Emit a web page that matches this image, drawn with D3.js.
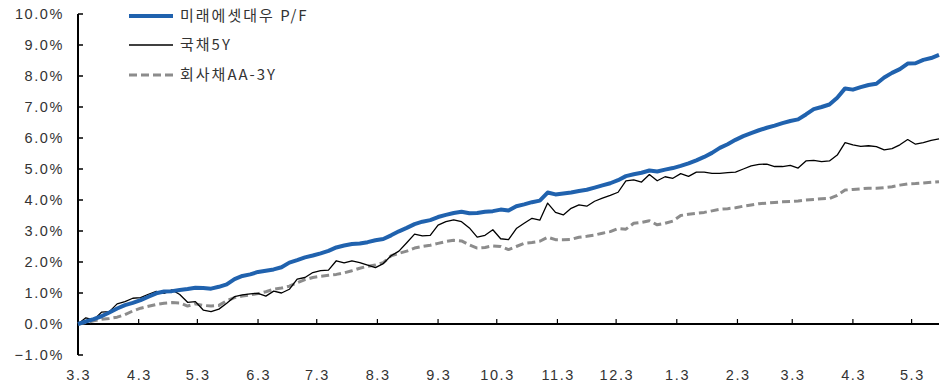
<!DOCTYPE html>
<html>
<head>
<meta charset="utf-8">
<script src="https://cdn.jsdelivr.net/npm/d3@7"></script>
<style>
  html, body { margin: 0; padding: 0; background: #fff; }
  svg { display: block; }
  .tick-label { font-family: "Liberation Sans", Arial, sans-serif; font-size: 14.5px; letter-spacing: 1.6px; fill: #333; }
  .legend-label { font-family: "Noto Sans CJK KR", "Noto Sans", sans-serif; font-size: 15px; letter-spacing: 2px; fill: #333; }
</style>
</head>
<body>
<svg id="chart" width="946" height="385"></svg>
<script>
// Cumulative return (%) sampled every 4 days from the start date
const startDate = "2018-03-03";
const stepDays = 4;

const seriesNames = ["미래에셋대우 P/F", "국채5Y", "회사채AA-3Y"];

const mirae = [
  0, 0.08, 0.16, 0.25, 0.37, 0.5, 0.61, 0.68, 0.77, 0.88,
  0.99, 1.05, 1.06, 1.1, 1.13, 1.17, 1.16, 1.14, 1.2, 1.28,
  1.45, 1.55, 1.6, 1.68, 1.72, 1.76, 1.83, 1.98, 2.06, 2.15,
  2.21, 2.28, 2.36, 2.47, 2.53, 2.58, 2.6, 2.64, 2.7, 2.74,
  2.86, 2.99, 3.1, 3.22, 3.3, 3.35, 3.45, 3.52, 3.58, 3.62,
  3.57, 3.58, 3.62, 3.64, 3.69, 3.66, 3.8, 3.86, 3.93, 3.98,
  4.24, 4.18, 4.21, 4.24, 4.29, 4.33, 4.4, 4.47, 4.54, 4.64,
  4.77, 4.83, 4.88, 4.95, 4.92, 4.98, 5.03, 5.1, 5.18, 5.28,
  5.39, 5.52, 5.68, 5.8, 5.94, 6.06, 6.16, 6.25, 6.33, 6.4,
  6.48, 6.55, 6.6, 6.76, 6.93, 7.0, 7.08, 7.3, 7.6, 7.56,
  7.64, 7.71, 7.75, 7.95, 8.1, 8.22, 8.4, 8.41, 8.52, 8.58,
  8.68
];

const ktb5y = [
  0, 0.2, 0.13, 0.38, 0.4, 0.65, 0.72, 0.83, 0.85, 0.96,
  1.05, 0.99, 1.1, 0.95, 0.7, 0.72, 0.45, 0.4, 0.48, 0.67,
  0.88, 0.94, 0.97, 0.99, 0.9, 1.06, 1.0, 1.12, 1.45, 1.5,
  1.66, 1.72, 1.74, 2.04, 1.97, 2.04, 1.98, 1.9, 1.82, 1.95,
  2.2, 2.35, 2.62, 2.9, 2.84, 2.86, 3.19, 3.3, 3.36, 3.3,
  3.1, 2.8, 2.86, 3.04, 2.75, 2.72, 3.08, 3.25, 3.41, 3.35,
  3.9, 3.6, 3.52, 3.73, 3.84, 3.8, 3.96, 4.06, 4.15, 4.25,
  4.62, 4.65, 4.58, 4.82, 4.62, 4.75, 4.7, 4.85, 4.76, 4.9,
  4.9, 4.86, 4.86, 4.88, 4.9, 5.0, 5.1, 5.15, 5.16, 5.08,
  5.08, 5.12, 5.03, 5.26, 5.28, 5.24, 5.26, 5.45, 5.85, 5.78,
  5.73, 5.75, 5.72, 5.62, 5.66, 5.78, 5.95, 5.8, 5.85, 5.92,
  5.97
];

const corpAA3y = [
  0, 0.05, 0.1, 0.15, 0.18, 0.22, 0.3, 0.42, 0.51, 0.57,
  0.63, 0.67, 0.69, 0.68, 0.58, 0.65, 0.6, 0.58, 0.6, 0.75,
  0.85, 0.9, 0.94, 0.98, 1.04, 1.12, 1.16, 1.22, 1.33, 1.43,
  1.5, 1.54, 1.57, 1.6, 1.65, 1.72, 1.8, 1.86, 1.9, 1.98,
  2.2, 2.28, 2.35, 2.45, 2.5, 2.54, 2.6, 2.66, 2.7, 2.68,
  2.55, 2.45, 2.47, 2.52, 2.5, 2.4, 2.5, 2.6, 2.63, 2.67,
  2.8, 2.72, 2.72, 2.73, 2.8, 2.83, 2.87, 2.93, 2.98, 3.08,
  3.06, 3.25, 3.28, 3.33, 3.2, 3.25, 3.32, 3.5, 3.54, 3.57,
  3.6, 3.65, 3.7, 3.72, 3.75, 3.8, 3.84, 3.88, 3.9, 3.92,
  3.94, 3.95, 3.97, 4.0, 4.02, 4.04, 4.05, 4.15, 4.32, 4.34,
  4.36, 4.38, 4.38, 4.4, 4.43, 4.48, 4.52, 4.53, 4.55, 4.57,
  4.59
];

const yTicks = [-1, 0, 1, 2, 3, 4, 5, 6, 7, 8, 9, 10];
const xTickLabels = ["3.3", "4.3", "5.3", "6.3", "7.3", "8.3", "9.3", "10.3", "11.3", "12.3", "1.3", "2.3", "3.3", "4.3", "5.3"];
const xTickYears = [2018, 2018, 2018, 2018, 2018, 2018, 2018, 2018, 2018, 2018, 2019, 2019, 2019, 2019, 2019];

const parse = d3.timeParse("%Y-%m-%d");
const t0 = parse(startDate);
const dates = mirae.map((_, i) => d3.timeDay.offset(t0, i * stepDays));
const tickDates = xTickLabels.map((lab, i) => {
  const [m, d] = lab.split(".").map(Number);
  return new Date(xTickYears[i], m - 1, d);
});

const svg = d3.select("#chart");

const x = d3.scaleTime()
  .domain([t0, dates[dates.length - 1]])
  .range([78, 939]);
const y = d3.scaleLinear()
  .domain([-1, 10])
  .range([355, 14]);

// y axis: vertical line with inward ticks, labels on the left
const yAxis = svg.append("g").attr("transform", "translate(78,0)");
yAxis.append("line")
  .attr("x1", 0).attr("x2", 0)
  .attr("y1", y(10)).attr("y2", y(-1))
  .attr("stroke", "#000").attr("stroke-width", 2);
yAxis.selectAll("line.tk").data(yTicks).join("line")
  .attr("class", "tk")
  .attr("x1", 0).attr("x2", 5)
  .attr("y1", d => y(d)).attr("y2", d => y(d))
  .attr("stroke", "#000").attr("stroke-width", 1.5);
yAxis.selectAll("text").data(yTicks).join("text")
  .attr("class", "tick-label")
  .attr("x", -14)
  .attr("y", d => y(d))
  .attr("dy", "0.36em")
  .attr("text-anchor", "end")
  .text(d => d3.format(".1f")(d) + "%");

// x axis at 0%, ticks pointing up, labels along the bottom
const xAxis = svg.append("g");
xAxis.append("line")
  .attr("x1", 78).attr("x2", 939)
  .attr("y1", y(0)).attr("y2", y(0))
  .attr("stroke", "#000").attr("stroke-width", 2);
xAxis.selectAll("line.tk").data(tickDates).join("line")
  .attr("class", "tk")
  .attr("x1", d => x(d)).attr("x2", d => x(d))
  .attr("y1", y(0)).attr("y2", y(0) - 5)
  .attr("stroke", "#000").attr("stroke-width", 1.2);
xAxis.selectAll("text").data(tickDates).join("text")
  .attr("class", "tick-label")
  .attr("x", d => x(d) + 0.8)
  .attr("y", 375)
  .attr("dy", "0.36em")
  .attr("text-anchor", "middle")
  .text((d, i) => xTickLabels[i]);

const line = d3.line()
  .x((d, i) => x(dates[i]))
  .y(d => y(d));

const styles = [
  { data: corpAA3y, color: "#8c8c8c", width: 3, dash: "8,4" },
  { data: ktb5y, color: "#000000", width: 1.3, dash: null },
  { data: mirae, color: "#2062ae", width: 4, dash: null }
];

styles.forEach(s => {
  svg.append("path")
    .datum(s.data)
    .attr("fill", "none")
    .attr("stroke", s.color)
    .attr("stroke-width", s.width)
    .attr("stroke-linejoin", "round")
    .attr("stroke-dasharray", s.dash)
    .attr("d", line);
});

// legend
const legendItems = [
  { name: seriesNames[0], color: "#2062ae", width: 4, dash: null, cy: 16 },
  { name: seriesNames[1], color: "#000000", width: 1.3, dash: null, cy: 45 },
  { name: seriesNames[2], color: "#8c8c8c", width: 3, dash: "8,4", cy: 75 }
];
const legend = svg.append("g");
legendItems.forEach(it => {
  legend.append("line")
    .attr("x1", 129).attr("x2", 173)
    .attr("y1", it.cy).attr("y2", it.cy)
    .attr("stroke", it.color)
    .attr("stroke-width", it.width)
    .attr("stroke-dasharray", it.dash);
  legend.append("text")
    .attr("class", "legend-label")
    .attr("x", 180)
    .attr("y", it.cy)
    .attr("dy", "0.36em")
    .text(it.name);
});
</script>
</body>
</html>
